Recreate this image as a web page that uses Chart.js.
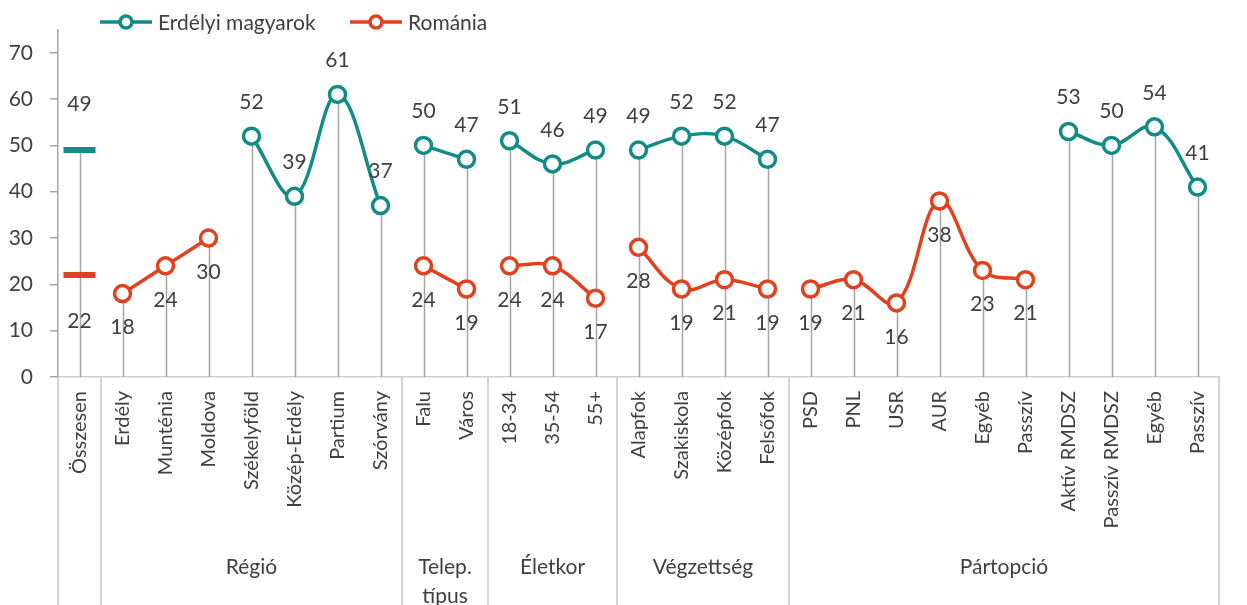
<!DOCTYPE html>
<html>
<head>
<meta charset="utf-8">
<script src="https://cdn.jsdelivr.net/npm/chart.js@4"></script>
<style>
html,body{margin:0;padding:0;background:#fff;}
#wrap{width:1247px;height:605px;}
</style>
</head>
<body>
<div id="wrap"><canvas id="c" width="1247" height="605"></canvas></div>
<script>
const categories = ['Összesen','Erdély','Munténia','Moldova','Székelyföld','Közép-Erdély','Partium','Szórvány','Falu','Város','18-34','35-54','55+','Alapfok','Szakiskola','Középfok','Felsőfok','PSD','PNL','USR','AUR','Egyéb','Passzív','Aktív RMDSZ','Passzív RMDSZ','Egyéb','Passzív'];
const erdelyiMagyarok = [49, null,null,null, 52,39,61,37, 50,47, 51,46,49, 49,52,52,47, null,null,null,null,null,null, 53,50,54,41];
const romania = [22, 18,24,30, null,null,null,null, 24,19, 24,24,17, 28,19,21,19, 19,21,16,38,23,21, null,null,null,null];
const groupNames = [null, ['Régió'], ['Telep.','típus'], ['Életkor'], ['Végzettség'], ['Pártopció']];
const groupStarts = [0, 1, 8, 10, 13, 17];
const yTicks = [0,10,20,30,40,50,60,70];
const seriesNames = ['Erdélyi magyarok', 'Románia'];

const TEAL = '#138C87';
const RED = '#E0411E';
const TXT = '#404040';
const FONT = 'Lato, "Open Sans", sans-serif';

function groupEnd(g){ return g < groupStarts.length-1 ? groupStarts[g+1]-1 : categories.length-1; }

const datasets = [];
[[erdelyiMagyarok, TEAL, 0, -1],[romania, RED, 1, 1]].forEach(([vals,color,si,dir])=>{
  groupStarts.forEach((s,g)=>{
    const e = groupEnd(g);
    const data = vals.map((v,i)=> (i>=s && i<=e) ? v : null);
    if (data.every(v=>v===null)) return;
    const isTotal = g===0;
    datasets.push({
      label: seriesNames[si],
      data,
      borderColor: color,
      backgroundColor: '#ffffff',
      borderWidth: 3.5,
      pointRadius: isTotal ? 16 : 8,
      pointStyle: isTotal ? 'line' : 'circle',
      pointBorderWidth: isTotal ? 6 : 3.5,
      pointBackgroundColor: '#ffffff',
      pointBorderColor: color,
      tension: 0.38,
      spanGaps: false,
      _dir: dir,
      _labelOff: isTotal ? 46 : 34
    });
  });
});

const dropLines = {
  id:'dropLines',
  beforeDatasetsDraw(chart){
    const ctx = chart.ctx, x = chart.scales.x, y = chart.scales.y;
    ctx.save();
    ctx.strokeStyle = '#a6a6a6'; ctx.lineWidth = 1.5;
    categories.forEach((c,i)=>{
      const vs = [erdelyiMagyarok[i], romania[i]].filter(v=>v!==null);
      if (!vs.length) return;
      const m = Math.max(...vs);
      const px = Math.round(x.getPixelForValue(i))+0.5;
      ctx.beginPath(); ctx.moveTo(px, y.getPixelForValue(m)); ctx.lineTo(px, y.getPixelForValue(0)); ctx.stroke();
    });
    ctx.restore();
  }
};

const decor = {
  id:'decor',
  afterDatasetsDraw(chart){
    const ctx = chart.ctx;
    ctx.save();
    ctx.font = '21px ' + FONT; ctx.fillStyle = TXT; ctx.textAlign='center'; ctx.textBaseline='middle';
    chart.data.datasets.forEach((ds,di)=>{
      const meta = chart.getDatasetMeta(di);
      meta.data.forEach((pt,i)=>{
        if (ds.data[i]===null || ds.data[i]===undefined) return;
        ctx.fillText(String(ds.data[i]), pt.x, pt.y + ds._dir*ds._labelOff);
      });
    });
    ctx.restore();
  },
  afterDraw(chart){
    const ctx = chart.ctx, x = chart.scales.x, area = chart.chartArea;
    ctx.save();
    // separators
    ctx.strokeStyle = '#d4d4d4'; ctx.lineWidth = 2;
    const bounds = groupStarts.map(s=>x.getPixelForValue(s-0.5)).concat([x.getPixelForValue(categories.length-0.5)]);
    bounds.forEach(b=>{
      const px = Math.round(b);
      ctx.beginPath(); ctx.moveTo(px, area.bottom); ctx.lineTo(px, chart.height); ctx.stroke();
    });
    // group labels
    ctx.font = '21px ' + FONT; ctx.fillStyle = TXT; ctx.textAlign='center'; ctx.textBaseline='middle';
    groupStarts.forEach((s,g)=>{
      if (!groupNames[g]) return;
      const cx = (x.getPixelForValue(s-0.5) + x.getPixelForValue(groupEnd(g)+0.5))/2;
      groupNames[g].forEach((line,li)=> ctx.fillText(line, cx, 567 + li*29));
    });
    // legend
    const items = [[seriesNames[0], TEAL, 100],[seriesNames[1], RED, 350]];
    items.forEach(([name,color,lx])=>{
      const ly = 22;
      ctx.strokeStyle = color; ctx.lineWidth = 3.5;
      ctx.beginPath(); ctx.moveTo(lx, ly); ctx.lineTo(lx+52, ly); ctx.stroke();
      ctx.beginPath(); ctx.arc(lx+26, ly, 6, 0, Math.PI*2); ctx.fillStyle='#fff'; ctx.fill(); ctx.stroke();
      ctx.fillStyle = TXT; ctx.textAlign='left';
      ctx.fillText(name, lx+58, ly+1);
    });
    ctx.restore();
  }
};

new Chart(document.getElementById('c'), {
  type:'line',
  data:{ labels: categories, datasets },
  options:{
    responsive:false, animation:false,
    layout:{ padding:{ top:29, right:28, left:0, bottom:0 } },
    plugins:{ legend:{display:false}, tooltip:{enabled:false} },
    scales:{
      x:{
        offset:true,
        grid:{ display:false, drawTicks:false },
        border:{ display:true, color:'#cfcfcf', width:1.5, dash:[2,2] },
        ticks:{ autoSkip:false, maxRotation:90, minRotation:90, padding:14, color:TXT, font:{ family:FONT, size:20 } },
        afterFit(s){ s.height = 228; }
      },
      y:{
        min:0, max:75,
        afterBuildTicks(s){ s.ticks = yTicks.map(v=>({value:v})); },
        grid:{ drawOnChartArea:false, drawTicks:true, tickLength:8, color:'#a6a6a6', lineWidth:1.5 },
        border:{ display:true, color:'#a6a6a6', width:1.5 },
        ticks:{ padding:17, color:TXT, font:{ family:FONT, size:21 } },
        afterFit(s){ s.width = 58; }
      }
    }
  },
  plugins:[dropLines, decor]
});
</script>
</body>
</html>
